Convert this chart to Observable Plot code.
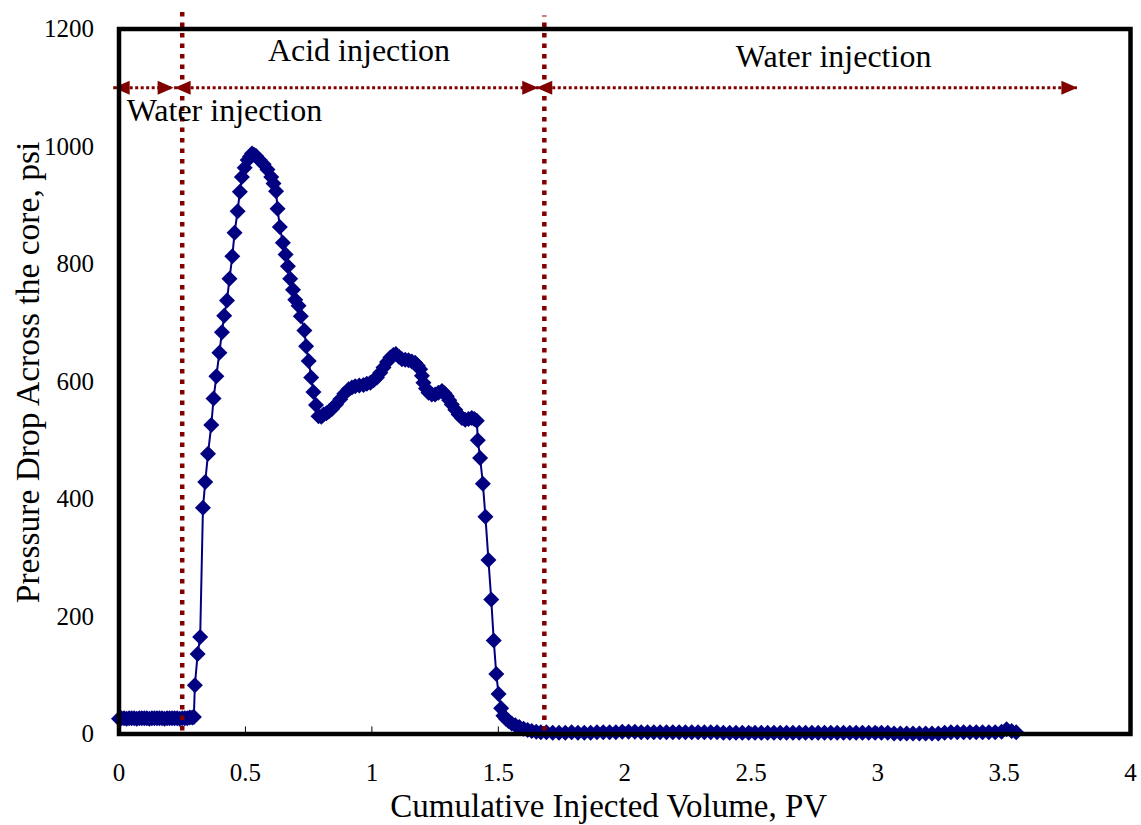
<!DOCTYPE html>
<html><head><meta charset="utf-8">
<script src="https://cdn.jsdelivr.net/npm/d3@7"></script>
<script src="https://cdn.jsdelivr.net/npm/@observablehq/plot@0.6"></script>
<style>
html,body{margin:0;padding:0;background:#fff;overflow:hidden;}
#chart svg text{font-family:"Liberation Serif","Times New Roman",serif;}
</style>
</head><body><div id="chart"></div>
<script>
// ---- data ----
const xTicks = [0, 0.5, 1, 1.5, 2, 2.5, 3, 3.5, 4];
const yTicks = [0, 200, 400, 600, 800, 1000, 1200];
const xTitle = "Cumulative Injected Volume, PV";
const yTitle = "Pressure Drop Across the core, psi";

// cumulative injected volume (PV)
const pv = [
  0, 0.01, 0.02, 0.03, 0.04, 0.05, 0.06, 0.07, 0.08, 0.09, 0.10, 0.11, 0.12, 0.13, 0.14, 0.15,
  0.16, 0.17, 0.18, 0.19, 0.20, 0.21, 0.22, 0.23, 0.24, 0.25, 0.26, 0.27, 0.28, 0.29, 0.296,
  0.300, 0.311, 0.321, 0.332, 0.341, 0.352, 0.365, 0.374, 0.385, 0.397, 0.407, 0.416, 0.427, 0.437,
  0.448, 0.457, 0.469, 0.478, 0.486, 0.497, 0.509, 0.518, 0.526, 0.534, 0.542, 0.556, 0.572, 0.587,
  0.602, 0.611, 0.621, 0.627, 0.636, 0.648, 0.659, 0.668, 0.677, 0.688, 0.697, 0.710, 0.719, 0.733,
  0.740, 0.750, 0.760, 0.769, 0.779, 0.789, 0.800, 0.809,
  0.820, 0.830, 0.842, 0.858, 0.875, 0.891, 0.908, 0.921, 0.934, 0.950, 0.967, 0.980, 0.994, 1.007,
  1.020, 1.033, 1.046, 1.060, 1.073, 1.085, 1.095, 1.107, 1.119, 1.132, 1.145, 1.158, 1.171, 1.182,
  1.191, 1.198, 1.204, 1.214, 1.224, 1.237, 1.250, 1.263, 1.277, 1.287, 1.296, 1.306, 1.316, 1.330,
  1.343, 1.356, 1.369, 1.382, 1.395, 1.405, 1.415,
  1.419, 1.428, 1.439, 1.449, 1.461, 1.472, 1.482, 1.492, 1.501, 1.511, 1.520, 1.530, 1.540, 1.553,
  1.567, 1.583, 1.600, 1.616, 1.632, 1.650, 1.668,
  1.690, 1.715, 1.740, 1.765, 1.790, 1.815, 1.840, 1.865, 1.890, 1.915, 1.940, 1.965, 1.990, 2.015,
  2.040, 2.065, 2.090, 2.115, 2.140, 2.165, 2.190, 2.215, 2.240, 2.265, 2.290, 2.315, 2.340, 2.365,
  2.390, 2.415, 2.440, 2.465, 2.490, 2.515, 2.540, 2.565, 2.590, 2.615, 2.640, 2.665, 2.690, 2.715,
  2.740, 2.765, 2.790, 2.815, 2.840, 2.865, 2.890, 2.915, 2.940, 2.965, 2.990, 3.015, 3.040, 3.065,
  3.090, 3.115, 3.140, 3.165, 3.190, 3.215, 3.240, 3.265, 3.290, 3.315, 3.340, 3.365, 3.390, 3.415,
  3.440, 3.465, 3.490, 3.510, 3.530, 3.548
];
// pressure drop across the core (psi)
const dp = [
  26, 27, 27, 26, 27, 27, 27, 26, 27, 27, 27, 27, 26, 27, 27, 27,
  27, 27, 26, 27, 27, 27, 27, 27, 26, 27, 27, 27, 28, 28, 29,
  83, 136, 165, 385, 429, 477, 526, 571, 609, 649, 684, 712, 738, 775,
  813, 853, 890, 923, 948, 964, 977, 983, 988, 986, 984, 977, 970, 961,
  948, 937, 924, 894, 863, 836, 816, 796, 775, 756, 739, 729, 711, 687,
  660, 635, 607, 582, 560, 541, 540, 544,
  546, 549, 553, 561, 570, 579, 587, 590, 592, 593, 594, 596, 598, 602,
  607, 615, 624, 633, 641, 645, 647, 642, 638, 637, 636, 634, 632, 627,
  621, 610, 598, 588, 581, 578, 578, 581, 584, 580, 575, 568, 561, 552,
  544, 538, 535, 536, 538, 536, 533,
  500, 470, 426, 370, 296, 229, 159, 102, 68, 44, 31, 26, 22, 18,
  15, 12, 9, 7, 5, 4, 3,
  3, 2, 2, 2, 3, 2, 2, 2, 3, 3, 3, 3, 4, 4,
  4, 3, 3, 3, 3, 3, 3, 3, 3, 3, 3, 3, 3, 3,
  2, 2, 2, 2, 2, 2, 2, 2, 2, 2, 2, 2, 2, 2,
  2, 2, 2, 2, 2, 2, 2, 2, 2, 2, 2, 2, 2, 1,
  1, 1, 1, 1, 1, 1, 1, 2, 3, 3, 3, 3, 3, 3,
  3, 3, 4, 8, 5, 3
];

// phase boundaries (PV) and phase arrows
const boundaryPV = [0.25, 1.682];
const boundaryTop = [1232, 1222];
const arrowFrom = [-0.021, 0.22, 1.65];
const arrowTo = [0.216, 1.658, 3.79];
const arrowLevel = 1100;
const phaseLabels = ["Water injection", "Acid injection", "Water injection"];
const phaseLabelX = [0.417, 0.949, 2.826];
const phaseLabelY = [1043, 1145, 1135];

// ---- build tables ----
const data = pv.map((x, i) => ({x, y: dp[i]}));
const boundaries = boundaryPV.map((x, i) => ({x, top: boundaryTop[i]}));
const arrows = arrowFrom.map((a, i) => ({a, b: arrowTo[i], y: arrowLevel}));
const labels = phaseLabels.map((t, i) => ({t, x: phaseLabelX[i], y: phaseLabelY[i]}));

const navy = "#000080";
const maroon = "#800000";

const diamond = {
  draw(ctx) {
    const r = 8;
    ctx.moveTo(0, -r); ctx.lineTo(r, 0); ctx.lineTo(0, r); ctx.lineTo(-r, 0); ctx.closePath();
  }
};
const headRight = {
  draw(ctx) { ctx.moveTo(0, 0); ctx.lineTo(-16, -7); ctx.lineTo(-16, 7); ctx.closePath(); }
};
const headLeft = {
  draw(ctx) { ctx.moveTo(0, 0); ctx.lineTo(16, -7); ctx.lineTo(16, 7); ctx.closePath(); }
};

const font = '"Liberation Serif", "Times New Roman", serif';

const chart = Plot.plot({
  width: 1141,
  height: 825,
  marginLeft: 118.5,
  marginRight: 11,
  marginTop: 28.5,
  marginBottom: 91.5,
  style: {fontFamily: font, fontSize: "25px", background: "white", color: "black", overflow: "visible"},
  x: {domain: [0, 4], axis: null},
  y: {domain: [0, 1200], axis: null},
  marks: [
    // inner tick marks
    Plot.ruleX(xTicks.slice(1, -1), {x: d => d, y1: 0, y2: 12, stroke: "black", strokeWidth: 1}),
    // tick labels (drawn through the scales)
    Plot.text(xTicks, {x: d => d, frameAnchor: "bottom", dy: 39, text: d => String(d), fontSize: 25, fontFamily: font, textAnchor: "middle", lineAnchor: "middle", fill: "black"}),
    Plot.text(yTicks, {y: d => d, frameAnchor: "left", dx: -25, text: d => String(d), fontSize: 25, fontFamily: font, textAnchor: "end", lineAnchor: "middle", fill: "black"}),
    // data
    Plot.line(data, {x: "x", y: "y", stroke: navy, strokeWidth: 2}),
    Plot.dot(data, {x: "x", y: "y", symbol: diamond, fill: navy, stroke: "none"}),
    // phase boundaries
    Plot.ruleX(boundaries, {x: "x", y1: 5, y2: "top", stroke: maroon, strokeWidth: 4.5, strokeDasharray: "4.5,6"}),
    // phase arrows
    Plot.ruleY(arrows, {y: "y", x1: "a", x2: "b", stroke: maroon, strokeWidth: 3, strokeDasharray: "3,2.5"}),
    Plot.dot(arrows, {x: "a", y: "y", symbol: headLeft, fill: maroon, stroke: "none"}),
    Plot.dot(arrows, {x: "b", y: "y", symbol: headRight, fill: maroon, stroke: "none"}),
    Plot.text(labels, {x: "x", y: "y", text: "t", fontSize: 32, fontFamily: font, textAnchor: "middle", lineAnchor: "bottom", fill: "black"}),
    // frame
    Plot.frame({stroke: "black", strokeWidth: 4.5}),
    // axis titles
    Plot.text([xTitle], {text: d => d, frameAnchor: "bottom", dx: -16, dy: 83, fontSize: 33, fontFamily: font, textAnchor: "middle", lineAnchor: "bottom", fill: "black"}),
    Plot.text([yTitle], {text: d => d, frameAnchor: "left", dx: -91, dy: -9, rotate: -90, fontSize: 33.5, fontFamily: font, textAnchor: "middle", lineAnchor: "middle", fill: "black"})
  ]
});
document.getElementById("chart").appendChild(chart);
</script></body></html>
